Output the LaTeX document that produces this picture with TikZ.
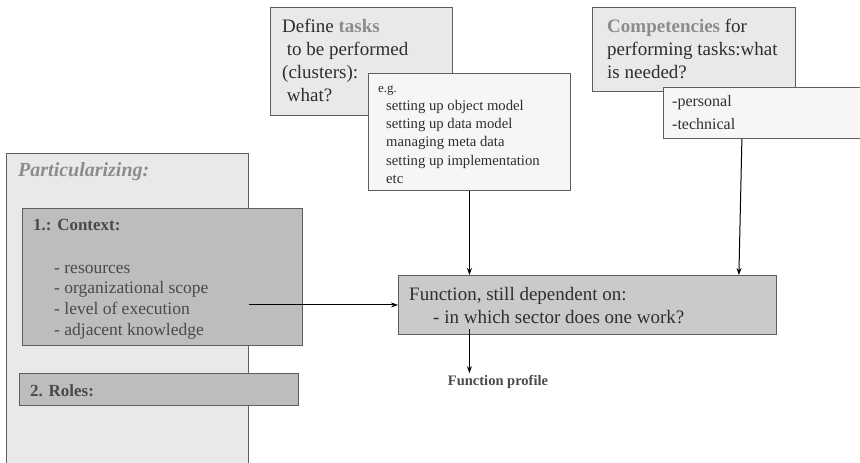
\documentclass[tikz,border=0pt]{standalone}
\usepackage{fontspec}
\setmainfont{Liberation Serif}
\usetikzlibrary{arrows.meta}
\definecolor{edge}{HTML}{5E5E5E}
\definecolor{paneA}{HTML}{E9E9EB}
\definecolor{paneB}{HTML}{F6F6F6}
\definecolor{paneC}{HTML}{BDBDBD}
\definecolor{paneD}{HTML}{CACACA}
\definecolor{ink}{HTML}{2E2E2E}
\definecolor{dim}{HTML}{4A4A4A}
\definecolor{hint}{HTML}{8C8C8C}
\begin{document}
\begin{tikzpicture}[x=1pt,y=-1pt,
  box/.style={draw=edge, line width=0.9pt, anchor=north west, inner sep=0pt},
  txt/.style={anchor=north west, inner sep=0pt, align=left, text=ink},
  big/.style={font=\fontsize{19}{23}\selectfont},
  arr/.style={-{Stealth[length=7pt,width=5pt]}, line width=1pt, black}]

\useasboundingbox (0,0) rectangle (860,463);

% task definition and its examples
\node[box, fill=paneA, minimum width=182pt, minimum height=108pt] (tasks) at (270,7) {};
\node[txt, big] (tasksT) at (282,16)
  {\strut Define {\bfseries\color{hint}tasks}\\\ to be performed\\(clusters):\\\ what?};
\node[box, fill=paneB, minimum width=202pt, minimum height=117pt] (eg) at (368,73) {};
\node[txt, font=\fontsize{14.7}{18.3}\selectfont] (egT) at (378,79)
  {\strut{\fontsize{13}{18.3}\selectfont e.g.}\\
   \hspace*{8pt}setting up object model\\
   \hspace*{8pt}setting up data model\\
   \hspace*{8pt}managing meta data\\
   \hspace*{8pt}setting up implementation\\
   \hspace*{8pt}etc};

% competencies and their kinds
\node[box, fill=paneA, minimum width=203pt, minimum height=84pt] (comp) at (592,7) {};
\node[txt, big] (compT) at (607,16)
  {\strut{\bfseries\color{hint}Competencies} for\\performing tasks:what\\is needed?};
\node[box, fill=paneB, minimum width=210pt, minimum height=51pt] (pers) at (663,87) {};
\node[txt, font=\fontsize{16}{23}\selectfont] (persT) at (672,90)
  {\strut -personal\\-technical};

% particularizing panel
\node[box, fill=paneA, minimum width=242pt, minimum height=330pt] (part) at (6,153) {};
\node[txt, text=hint, font=\fontsize{20}{24}\selectfont\bfseries\itshape] (partT) at (18,159)
  {\strut Particularizing:};
\node[box, fill=paneC, minimum width=280pt, minimum height=137pt] (ctx) at (22,208) {};
\node[txt, text=dim, font=\fontsize{17}{20}\selectfont\bfseries] (ctxT) at (33,216)
  {\strut 1.: Context:};
\node[txt, text=dim, font=\fontsize{17.5}{20.8}\selectfont] (ctxL) at (54,258.4)
  {\strut - resources\\- organizational scope\\- level of execution\\- adjacent knowledge};
\node[box, fill=paneC, minimum width=279pt, minimum height=32pt] (roles) at (19,373) {};
\node[txt, text=dim, font=\fontsize{17}{20}\selectfont\bfseries] (rolesT) at (30,382)
  {\strut 2. Roles:};

% resulting function
\node[box, fill=paneD, minimum width=378pt, minimum height=59pt] (fn) at (398,275) {};
\node[txt, big] (fnT) at (409,284)
  {\strut Function, still dependent on:\\\hspace*{24pt}- in which sector does one work?};
\node[text=dim, font=\fontsize{14.5}{16}\selectfont\bfseries, inner sep=0pt] (prof) at (498,382)
  {Function profile};

% connectors
\draw[arr] (part.east |- fn.west) -- (fn.west);
\draw[arr] (eg.south) -- (eg.south |- fn.north);
\draw[arr] ([xshift=-35pt]fn.north east |- pers.south) -- ([xshift=-38pt]fn.north east);
\draw[arr] ([yshift=6pt]fn.south -| eg.south) -- ([yshift=2pt]prof.north -| eg.south);
\end{tikzpicture}
\end{document}
